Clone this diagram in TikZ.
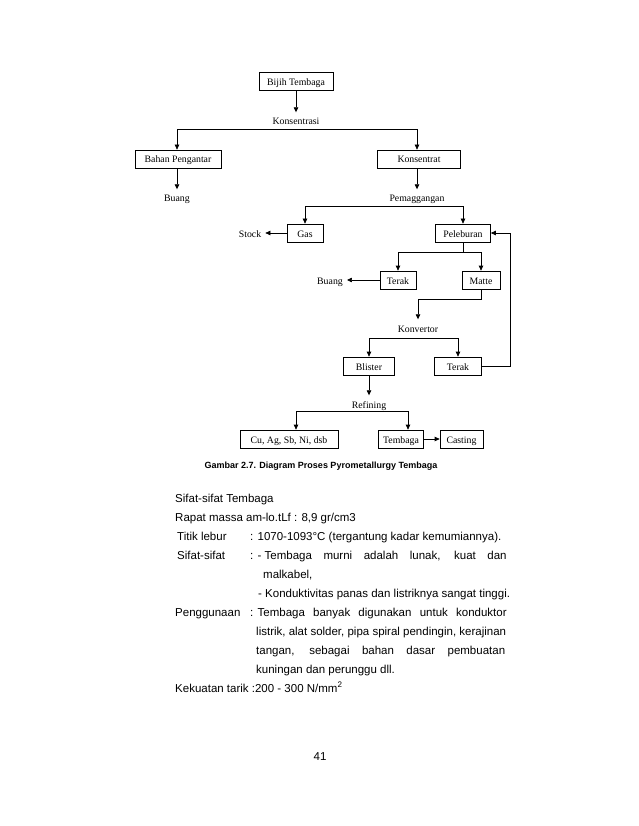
\documentclass[tikz,border=0pt]{standalone}
\usepackage{fontspec}
\setmainfont{Liberation Sans}
\newfontfamily\diafont{Liberation Serif}
\usetikzlibrary{arrows.meta}
\tikzset{box/.style={draw, line width=0.7pt, minimum height=18pt, inner sep=1pt,
  text height=8.5pt, text depth=0.5pt, font=\diafont\fontsize{9.8}{11}\selectfont}}
\tikzset{lbl/.style={inner sep=4pt, text height=8.5pt, text depth=0.5pt,
  font=\diafont\fontsize{9.8}{11}\selectfont}}
\tikzset{arr/.style={line width=0.7pt, -{Triangle[length=5pt,width=4.5pt]}}}
\tikzset{ln/.style={line width=0.7pt}}
\tikzset{txt/.style={anchor=base west, inner sep=0pt, font=\fontsize{11.5}{13}\selectfont}}

\begin{document}
\begin{tikzpicture}[x=1pt,y=-1pt]
      \useasboundingbox (0,0) rectangle (638,826);

      % boxes
      \node [box, minimum width=74pt] (bijih) at (296,81.5) {Bijih Tembaga};
      \node [box, minimum width=86pt] (bahan) at (178,159) {Bahan Pengantar};
      \node [box, minimum width=83pt] (konsentrat) at (419,159) {Konsentrat};
      \node [box, minimum width=36pt] (gas) at (305,233) {Gas};
      \node [box, minimum width=55pt] (peleburan) at (463,233) {Peleburan};
      \node [box, minimum width=36pt] (terakA) at (398,280) {Terak};
      \node [box, minimum width=38pt] (matte) at (481,280) {Matte};
      \node [box, minimum width=51pt] (blister) at (369,366) {Blister};
      \node [box, minimum width=47pt] (terakB) at (458,366) {Terak};
      \node [box, minimum width=98pt] (cu) at (289,439) {Cu, Ag, Sb, Ni, dsb};
      \node [box, minimum width=45pt] (tembaga) at (401,439) {Tembaga};
      \node [box, minimum width=43pt] (casting) at (461.5,439) {Casting};

      % labels
      \node [lbl] (konsentrasi) at (296,121) {Konsentrasi};
      \node [lbl] (buangA) at (177,198) {Buang};
      \node [lbl] (pemaggangan) at (417,198) {Pemaggangan};
      \node [lbl] (stock) at (250,233) {Stock};
      \node [lbl] (buangB) at (330,280) {Buang};
      \node [lbl] (konvertor) at (418,328) {Konvertor};
      \node [lbl] (refining) at (369,404) {Refining};

      \coordinate (splitA) at (296,129);
      \coordinate (splitB) at (417,206);
      \coordinate (splitC) at (463,252);
      \coordinate (matteK) at (418,299);
      \coordinate (splitD) at (418,338);
      \coordinate (splitE) at (369,411);
      \coordinate (balik) at (510,233);

      % connectors
      \draw [arr] (bijih) -- (konsentrasi);
      \draw [arr] (splitA) -| ([xshift=-1pt]bahan.north);
      \draw [arr] (splitA) -| ([xshift=-2pt]konsentrat.north);
      \draw [arr] ([xshift=-1pt]bahan.south) -- (buangA);
      \draw [arr] ([xshift=-2pt]konsentrat.south) -- (pemaggangan);
      \draw [arr] (splitB) -| (gas.north);
      \draw [arr] (splitB) -| (peleburan.north);
      \draw [arr] (gas) -- (stock);
      \draw [ln] (peleburan.south) -- (splitC);
      \draw [arr] (splitC) -| (terakA.north);
      \draw [arr] (splitC) -| (matte.north);
      \draw [arr] (terakA) -- (buangB);
      \draw [arr] (matte.south) |- (matteK) -- (konvertor);
      \draw [arr] (splitD) -| (blister.north);
      \draw [arr] (splitD) -| (terakB.north);
      \draw [arr] (terakB.east) -| (balik) -- (peleburan.east);
      \draw [arr] (blister) -- (refining);
      \draw [arr] (splitE) -| ([xshift=7pt]cu.north);
      \draw [arr] (splitE) -| ([xshift=7pt]tembaga.north);
      \draw [arr] (tembaga) -- (casting);

      \node [font=\bfseries\fontsize{9}{10}\selectfont] (caption) at (321,466) {Gambar 2.7. Diagram Proses Pyrometallurgy Tembaga};

      % text below
      \node [txt] (sifat) at (175,502) {Sifat-sifat Tembaga};
      \node [txt] (rapat) at (175,521) {Rapat massa am-lo.tLf : 8,9 gr/cm3};
      \node [txt] (titik) at (177,540) {Titik lebur};
      \node [txt] (titikV) at (250,540) {: 1070-1093°C (tergantung kadar kemumiannya).};
      \node [txt] (sifatB) at (177,559) {Sifat-sifat};
      \node [txt] (sifatV) at (250,559) {: - \makebox[242pt][s]{Tembaga murni adalah lunak, kuat dan}};
      \node [txt] (malk) at (263,578) {malkabel,};
      \node [txt] (kond) at (258,597) {- Konduktivitas panas dan listriknya sangat tinggi.};
      \node [txt] (guna) at (175,616) {Penggunaan};
      \node [txt] (gunaV) at (250,616) {: \makebox[249pt][s]{Tembaga banyak digunakan untuk konduktor}};
      \node [txt] (gunaB) at (256,635) {listrik, alat solder, pipa spiral pendingin, kerajinan};
      \node [txt] (gunaC) at (256,654) {\makebox[249pt][s]{tangan, sebagai bahan dasar pembuatan}};
      \node [txt] (gunaD) at (256,673) {kuningan dan perunggu dll.};
      \node [txt] (tarik) at (175,692) {Kekuatan tarik :200 - 300 N/mm\textsuperscript{2}};
      \node [font=\fontsize{11.5}{13}\selectfont] (hal) at (320,757) {41};
    \end{tikzpicture}
\end{document}
